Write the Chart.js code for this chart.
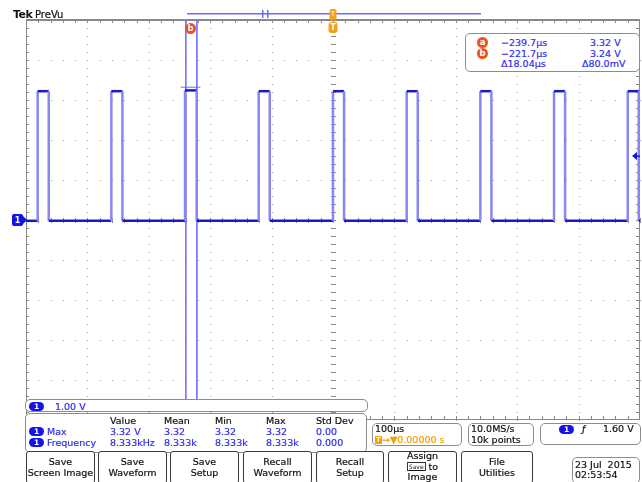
<!DOCTYPE html>
<html><head><meta charset="utf-8">
<script src="https://cdn.jsdelivr.net/npm/chart.js@4"></script>
<style>
html,body{margin:0;padding:0;background:#fff;}
#wrap{position:relative;width:642px;height:482px;overflow:hidden;font-family:"DejaVu Sans",sans-serif;font-size:9.5px;color:#111;}
canvas{position:absolute;left:0;top:0;}
.t{position:absolute;white-space:nowrap;line-height:11px;-webkit-text-stroke:0.2px currentColor;}
.blue{color:#2e2ef0;}
.org{color:#f2a100;}
.box{position:absolute;border:1px solid #8c8c8c;border-radius:5px;box-sizing:border-box;background:#fff;}
.btn{position:absolute;border:1.5px solid #3c3c3c;border-radius:3px;box-sizing:border-box;background:#fff;text-align:center;color:#111;-webkit-text-stroke:0.2px #111;}
.btn div{position:absolute;left:0;right:0;line-height:11px;white-space:nowrap;}
.pill{position:absolute;background:#1414e6;color:#fff;border-radius:5px;text-align:center;font-size:7.5px;line-height:9px;font-weight:bold;}
.circ{position:absolute;width:11px;height:11px;border-radius:50%;background:#ec5120;color:#fff;text-align:center;font-size:8.5px;line-height:11px;font-weight:bold;}
.tic{display:inline-block;background:#f2a100;color:#fff;font-size:7px;line-height:8px;width:7px;text-align:center;font-weight:bold;vertical-align:1px;-webkit-text-stroke:0;}
.save{display:inline-block;border:1px solid #333;font-size:6px;line-height:7px;padding:0 1px;text-decoration:underline;vertical-align:1px;-webkit-text-stroke:0;}
</style></head>
<body>
<div id="wrap"><canvas id="c" width="642" height="482"></canvas></div>
<script>
const timeRangeUs = [-500, 500];           // 100 µs/div, 10 divisions
const voltRangeV = [-5, 5];                // 1.00 V/div, 10 divisions
const timeGridUs = [-500, -400, -300, -200, -100, 0, 100, 200, 300, 400, 500];
const voltGridV = [-5, -4, -3, -2, -1, 0, 1, 2, 3, 4, 5];
const riseTimesUs = [-481, -361, -241, -121, 0, 120, 240, 360, 480];
const fallTimesUs = [-463, -343, -222, -103, 18, 138, 258, 378, 498];
const highLevelsV = [3.22, 3.22, 3.24, 3.22, 3.22, 3.22, 3.22, 3.22, 3.22];
const lowLevelV = -0.02;
const cursorTimesUs = [-239.7, -221.7];
const cursorSpanV = [5, -4.5];
const crosshairTimesUs = [-248, -216];
const crosshairVoltV = 3.32;
const triggerTimeUs = 0;
const triggerLevelV = 1.60;

// ---- build trace points from the arrays ----
const trace = [{x: timeRangeUs[0], y: lowLevelV}];
riseTimesUs.forEach((r, i) => {
  trace.push({x: r, y: lowLevelV}, {x: r, y: highLevelsV[i]},
             {x: fallTimesUs[i], y: highLevelsV[i]}, {x: fallTimesUs[i], y: lowLevelV});
});
trace.push({x: timeRangeUs[1], y: lowLevelV});

const cursorSets = cursorTimesUs.map(t => ({
  data: cursorSpanV.map(v => ({x: t, y: v})),
  borderColor: '#7676ff', borderWidth: 1, pointRadius: 0, order: 2
}));

const graticule = {
  id: 'graticule',
  beforeDatasetsDraw(chart) {
    const {ctx, chartArea: a, scales: {x, y}} = chart;
    const w = a.right - a.left, h = a.bottom - a.top;
    const stepX = w / 50, stepY = h / 50;
    ctx.save();
    ctx.fillStyle = '#a2a2a2';
    timeGridUs.forEach(t => {
      if (t === timeRangeUs[0] || t === timeRangeUs[1] || t === 0) return;
      const px = Math.round(x.getPixelForValue(t));
      for (let k = 0; k <= 50; k++) ctx.fillRect(px, Math.round(a.top + k * stepY), 1, 1);
    });
    voltGridV.forEach(v => {
      if (v === voltRangeV[0] || v === voltRangeV[1] || v === 0) return;
      const py = Math.round(y.getPixelForValue(v));
      for (let k = 0; k <= 50; k++) ctx.fillRect(Math.round(a.left + k * stepX), py, 1, 1);
    });
    // centre axes with minor ticks
    ctx.fillStyle = '#8a8a8a';
    const cx = Math.round(x.getPixelForValue(0)), cy = Math.round(y.getPixelForValue(0));
    for (let k = 0; k <= 50; k++) {
      const py = Math.round(a.top + k * stepY);
      ctx.fillRect(cx - 2, py, 5, 1);
      ctx.fillRect(cx, py, 1, 1);
      const px = Math.round(a.left + k * stepX);
      ctx.fillRect(px, cy - 2, 1, 5);
    }
    // border
    ctx.fillStyle = '#888';
    ctx.fillRect(a.left, a.top - 1, w, 2);
    ctx.fillRect(a.left, a.bottom - 1, w, 1);
    ctx.fillRect(a.left, a.top, 1, h);
    ctx.fillRect(a.right - 1, a.top, 1, h);
    for (let k = 1; k < 50; k++) {
      const px = Math.round(a.left + k * stepX);
      ctx.fillRect(px, a.top, 1, 3);
      ctx.fillRect(px, a.bottom - 4, 1, 3);
      const py = Math.round(a.top + k * stepY);
      ctx.fillRect(a.left, py, 3, 1);
      ctx.fillRect(a.right - 4, py, 3, 1);
    }
    ctx.restore();
  },
  afterDatasetsDraw(chart) {
    const {ctx, chartArea: a, scales: {x, y}} = chart;
    ctx.save();
    // PreVu record bar
    ctx.fillStyle = '#6a6aff';
    ctx.fillRect(187, 13, 294, 1.5);
    ctx.fillRect(262, 10, 1.5, 8);
    ctx.fillRect(267, 10, 1.5, 8);
    // trigger position markers
    const tx = x.getPixelForValue(triggerTimeUs);
    ctx.fillStyle = '#f5a21a';
    ctx.beginPath(); ctx.roundRect(tx - 3.5, 9, 7, 11, 2); ctx.fill();
    ctx.beginPath(); ctx.roundRect(tx - 4.5, 22, 9, 11, 3); ctx.fill();
    // cursor label circle
    ctx.fillStyle = '#ec5120';
    ctx.beginPath(); ctx.arc(190.5, 28.5, 5.5, 0, Math.PI * 2); ctx.fill();
    // ground marker
    const gy = y.getPixelForValue(0);
    ctx.fillStyle = '#1414e6';
    ctx.beginPath(); ctx.roundRect(12, gy - 6, 11, 12, 2); ctx.fill();
    ctx.beginPath(); ctx.moveTo(22, gy - 5); ctx.lineTo(27, gy); ctx.lineTo(22, gy + 5); ctx.fill();
    // trigger level arrow
    const ly = y.getPixelForValue(triggerLevelV);
    ctx.beginPath(); ctx.moveTo(632, ly); ctx.lineTo(637, ly - 4); ctx.lineTo(637, ly + 4); ctx.fill();
    ctx.fillRect(636, ly - 0.5, 4, 1.5);
    ctx.restore();
  }
};

const chart = new Chart(document.getElementById('c'), {
  type: 'line',
  data: {
    datasets: [
      {
        data: trace, borderWidth: 2.5, pointRadius: 0, order: 1,
        borderColor: '#1a1ac4',
        segment: {
          borderColor: c => (c.p0.parsed.x === c.p1.parsed.x ? '#8686f5' : '#1a1ac4')
        }
      },
      ...cursorSets,
      {
        data: crosshairTimesUs.map(t => ({x: t, y: crosshairVoltV})),
        borderColor: '#6a6aff', borderWidth: 1, pointRadius: 0, order: 0
      }
    ]
  },
  options: {
    responsive: false, animation: false, devicePixelRatio: 1,
    layout: {padding: {left: 26, right: 2, top: 20, bottom: 62}},
    elements: {line: {tension: 0}},
    scales: {
      x: {type: 'linear', min: timeRangeUs[0], max: timeRangeUs[1], display: false},
      y: {type: 'linear', min: voltRangeV[0], max: voltRangeV[1], display: false}
    },
    plugins: {legend: {display: false}, tooltip: {enabled: false}}
  },
  plugins: [graticule]
});

// ---- overlay text ----
const wrap = document.getElementById('wrap');
function el(cls, x, y, html, extra) {
  const d = document.createElement('div');
  d.className = cls;
  d.style.left = x + 'px'; d.style.top = y + 'px';
  if (extra) Object.assign(d.style, extra);
  d.innerHTML = html;
  wrap.appendChild(d);
  return d;
}
function txt(x, yc, html, cls, extra) { return el('t ' + (cls || ''), x, yc - 5.5, html, extra); }
function box(x, y, w, h) { return el('box', x, y, '', {width: w + 'px', height: h + 'px'}); }
function pill(x, y) { return el('pill', x, y, '1', {width: '15px', height: '9px'}); }

// header
txt(13, 14, 'Tek', '', {fontWeight: 'bold', fontSize: '11px', letterSpacing: '-0.5px', WebkitTextStroke: '0'});
txt(35, 14, 'PreVu', '', {fontSize: '10px'});

// marker letters
const tx = chart.scales.x.getPixelForValue(triggerTimeUs);
txt(tx - 3.5, 14.5, 'T', '', {color: '#fff', fontSize: '7px', width: '7px', textAlign: 'center', WebkitTextStroke: '0'});
txt(tx - 4.5, 27.5, 'T', '', {color: '#fff', fontSize: '8px', width: '9px', textAlign: 'center', fontWeight: 'bold', WebkitTextStroke: '0'});
txt(185, 28.5, 'b', '', {color: '#fff', fontSize: '8.5px', width: '11px', textAlign: 'center', fontWeight: 'bold', WebkitTextStroke: '0'});
txt(12, chart.scales.y.getPixelForValue(0), '1', '', {color: '#fff', fontSize: '8px', width: '11px', textAlign: 'center', fontWeight: 'bold', WebkitTextStroke: '0'});

// cursor readout
box(465, 33, 175, 39);
el('circ', 477, 37, 'a');
el('circ', 477, 48, 'b');
txt(501, 42.5, '\u2212239.7\u00b5s', 'blue');
txt(590, 42.5, '3.32 V', 'blue');
txt(501, 53.3, '\u2212221.7\u00b5s', 'blue');
txt(590, 53.3, '3.24 V', 'blue');
txt(501, 63.5, '\u039418.04\u00b5s', 'blue');
txt(582, 63.5, '\u039480.0mV', 'blue');

// vertical scale box
box(25, 399, 343, 13);
pill(29, 402);
txt(55, 406, '1.00 V', 'blue');

// measurement table
box(25, 413, 342, 40);
txt(110, 420, 'Value'); txt(164, 420, 'Mean'); txt(215, 420, 'Min'); txt(266, 420, 'Max'); txt(316, 420, 'Std Dev');
pill(29, 427);
txt(47, 431, 'Max', 'blue');
txt(110, 431, '3.32 V', 'blue'); txt(164, 431, '3.32', 'blue'); txt(215, 431, '3.32', 'blue'); txt(266, 431, '3.32', 'blue'); txt(316, 431, '0.00', 'blue');
pill(29, 438);
txt(47, 442.3, 'Frequency', 'blue');
txt(110, 442.3, '8.333kHz', 'blue'); txt(164, 442.3, '8.333k', 'blue'); txt(215, 442.3, '8.333k', 'blue'); txt(266, 442.3, '8.333k', 'blue'); txt(316, 442.3, '0.000', 'blue');

// timebase / acquisition / trigger boxes
box(372, 423, 90, 23);
txt(375, 428.5, '100\u00b5s');
txt(375, 439, '<span class="tic">T</span>\u2192\u25bc0.00000 s', 'org');
box(468, 423, 66, 23);
txt(471, 428.5, '10.0MS/s');
txt(471, 439, '10k points');
box(540, 423, 101, 22);
pill(559, 424.5);
txt(582, 428.5, '\u0192', '', {fontStyle: 'italic'});
txt(603, 428.5, '1.60 V');

// menu buttons
const buttons = [
  [26, 69, ['Save', 'Screen Image']],
  [98, 69, ['Save', 'Waveform']],
  [170, 69, ['Save', 'Setup']],
  [243, 69, ['Recall', 'Waveform']],
  [316, 68, ['Recall', 'Setup']],
  [388, 69, ['Assign', '<span class="save">Save</span> to', 'Image']],
  [461, 72, ['File', 'Utilities']]
];
buttons.forEach(([bx, bw, lines]) => {
  const b = el('btn', bx, 451, '', {width: bw + 'px', height: '33px'});
  const starts = lines.length === 3 ? [-2, 8.5, 19] : [4, 15];
  lines.forEach((l, i) => {
    const d = document.createElement('div');
    d.style.top = starts[i] + 'px';
    d.innerHTML = l;
    b.appendChild(d);
  });
});

// date box
box(572, 457, 68, 27);
txt(575, 464, '23 Jul&nbsp; 2015');
txt(575, 474.5, '02:53:54');
</script>
</body></html>
